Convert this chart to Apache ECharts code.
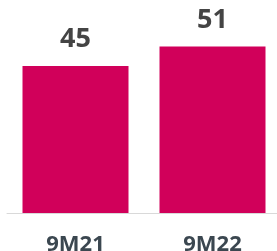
<!DOCTYPE html>
<html>
<head>
<meta charset="utf-8">
<style>html,body{margin:0;padding:0;background:#fff}#c{width:277px;height:251px}</style>
<script src="https://cdn.jsdelivr.net/npm/echarts@6/dist/echarts.min.js"></script>
</head>
<body>
<div id="c"></div>
<script>
const categories = ['9M21', '9M22'];
const values = [45, 51];

const chart = echarts.init(document.getElementById('c'), null, {renderer: 'canvas'});
chart.setOption({
  animation: false,
  grid: {left: 7, width: 274, top: 17, bottom: 38, outerBoundsMode: 'none', containLabel: false},
  xAxis: {
    type: 'category',
    data: categories,
    axisLine: {show: true, lineStyle: {color: '#d9d9d9', width: 1}},
    axisTick: {show: false},
    axisLabel: {
      margin: 21,
      color: '#3b4750',
      fontFamily: 'Open Sans',
      fontWeight: 'bold',
      fontSize: 22
    }
  },
  yAxis: {type: 'value', min: 0, max: 60, show: false, splitLine: {show: false}},
  series: [{
    type: 'bar',
    data: values,
    barWidth: 106,
    itemStyle: {color: '#d1005a'},
    label: {
      show: true,
      position: 'top',
      distance: 13,
      color: '#444444',
      fontFamily: 'Open Sans',
      fontWeight: 'bold',
      fontSize: 27
    }
  }]
});
</script>
</body>
</html>
